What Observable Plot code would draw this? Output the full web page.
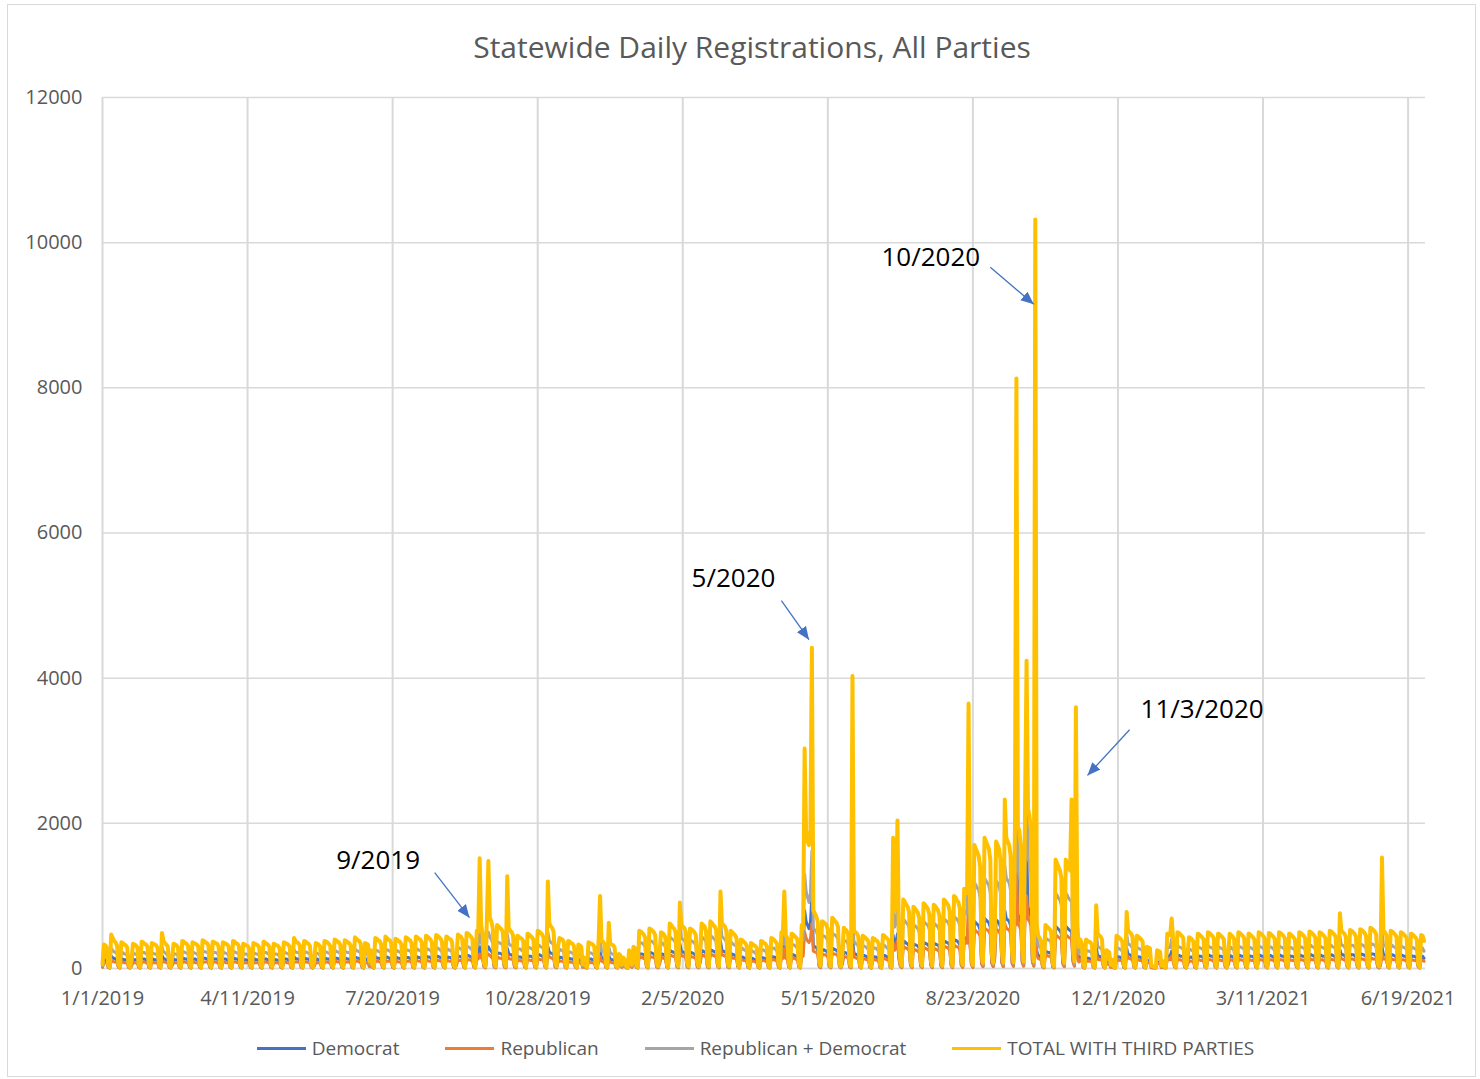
<!DOCTYPE html>
<html>
<head>
<meta charset="utf-8">
<script src="https://cdn.jsdelivr.net/npm/d3@7"></script>
<script src="https://cdn.jsdelivr.net/npm/@observablehq/plot@0.6"></script>
<style>
  body { margin: 0; background: #fff; font-family: "Open Sans", sans-serif; }
  #wrap { position: relative; width: 1480px; height: 1079px; overflow: hidden; }
  #frame { position: absolute; left: 7px; top: 4px; width: 1469px; height: 1073px; border: 1.5px solid #d9d9d9; box-sizing: border-box; }
  #title { position: absolute; top: 26px; left: 0; width: 1504px; text-align: center; font-size: 30px; color: #595959; line-height: 42px; }
  #chart { position: absolute; left: 0; top: 80px; }
  #legend { position: absolute; top: 1034px; left: 0; width: 1511px; display: flex; justify-content: center; gap: 46px; font-size: 19px; color: #595959; line-height: 28px; }
  .item { display: flex; align-items: center; gap: 6px; }
  .sw { width: 49px; height: 3px; }
</style>
</head>
<body>
<div id="wrap">
  <div id="frame"></div>
  <div id="title">Statewide Daily Registrations, All Parties</div>
  <div id="chart"></div>
  <div id="legend"></div>
</div>
<script>
// ---- Data: daily values from 1/1/2019 to 6/30/2021 (one line per Mon–Sun week) ----
const firstDate = "2019-01-01";

const total = [
  60,330,320,280,50,20,
  470,420,380,360,320,60,20,
  360,350,330,320,290,50,20,
  120,340,330,320,290,50,20,
  370,360,340,330,300,60,20,
  350,340,330,320,280,50,20,
  490,380,350,330,300,50,20,
  150,340,330,320,290,50,20,
  380,370,350,340,310,60,20,
  360,350,340,330,300,50,20,
  390,380,360,350,320,60,20,
  370,360,350,340,300,50,20,
  360,350,340,330,300,50,20,
  380,370,350,340,310,60,20,
  340,330,320,310,280,50,20,
  350,340,330,320,290,50,20,
  370,360,340,330,300,60,20,
  340,330,320,310,280,50,20,
  360,350,340,330,300,50,20,
  420,380,360,350,320,60,20,
  380,370,350,340,310,60,20,
  120,350,340,330,300,50,20,
  380,370,360,340,310,60,20,
  400,390,370,360,320,60,20,
  390,380,360,350,320,60,20,
  430,410,390,380,340,60,20,
  350,340,330,100,250,50,20,
  420,410,390,380,340,60,20,
  440,420,400,390,350,60,20,
  410,400,380,370,330,60,20,
  430,420,400,390,350,60,20,
  440,430,410,400,360,60,20,
  450,440,420,400,360,60,20,
  460,450,430,410,370,70,20,
  440,430,410,400,360,60,20,
  150,470,450,440,400,70,20,
  490,480,460,440,400,70,20,
  520,500,1520,600,480,80,30,
  700,1480,700,650,560,90,30,
  600,580,560,540,500,80,30,
  1270,560,520,500,460,80,30,
  450,440,420,410,380,70,20,
  480,470,450,430,400,70,20,
  520,510,490,470,430,70,20,
  1200,620,580,560,500,80,30,
  300,420,410,400,360,60,20,
  380,370,350,340,310,60,20,
  330,320,300,60,150,40,20,
  360,350,340,330,300,50,20,
  400,1000,380,370,340,60,20,
  630,340,330,320,290,50,20,
  200,180,50,150,120,30,10,
  250,200,50,300,280,50,20,
  520,510,490,470,430,70,20,
  550,540,520,500,460,80,30,
  200,500,490,470,430,70,20,
  620,600,570,550,500,80,30,
  910,600,580,560,510,80,30,
  550,540,520,500,460,80,30,
  250,620,600,580,520,80,30,
  650,630,600,580,530,90,30,
  1060,620,600,580,520,80,30,
  520,500,480,460,420,70,20,
  400,390,370,350,320,60,20,
  350,340,320,310,280,50,20,
  380,370,350,340,300,50,20,
  420,410,390,370,340,60,20,
  500,480,1060,460,420,70,20,
  480,470,450,430,400,70,20,
  600,550,3030,1900,1760,1700,1900,
  4420,800,760,720,650,100,40,
  650,640,620,600,540,90,30,
  700,680,650,630,570,90,30,
  200,560,540,520,470,80,30,
  4030,520,500,480,440,70,20,
  450,440,420,400,370,60,20,
  420,410,390,380,340,60,20,
  460,450,430,410,380,60,20,
  1800,800,900,2040,400,100,40,
  950,920,880,850,780,120,40,
  850,830,800,770,700,110,40,
  900,880,850,820,740,120,40,
  880,860,830,800,720,110,40,
  950,930,900,870,790,120,40,
  1000,980,940,910,830,130,50,
  1100,1080,1040,3650,950,150,50,
  1700,1650,1600,1550,1400,200,80,
  1800,1750,1700,1650,1500,220,80,
  400,1750,1700,1650,1500,220,80,
  2330,1800,1750,1700,1550,230,90,
  2000,8130,1950,1900,1700,250,100,
  2300,4240,2200,2100,1900,300,100,
  10320,600,450,420,380,80,30,
  600,580,560,540,500,80,30,
  1500,1450,1400,1350,1250,200,80,
  1500,1450,1400,1350,2330,300,100,
  3600,600,300,400,350,60,20,
  400,380,370,360,330,60,20,
  870,480,460,440,400,70,20,
  250,240,220,50,120,30,10,
  450,440,420,400,370,60,20,
  780,520,500,480,440,70,20,
  450,440,420,400,370,60,20,
  300,290,280,40,30,20,10,
  250,240,230,40,100,30,10,
  480,470,460,690,420,70,20,
  500,490,470,450,420,70,20,
  200,430,420,400,370,60,20,
  480,470,450,430,400,70,20,
  500,490,470,450,420,70,20,
  480,470,450,430,400,70,20,
  200,480,460,440,410,70,20,
  500,490,470,450,420,70,20,
  480,470,450,430,400,70,20,
  500,490,470,450,420,70,20,
  490,480,460,440,410,70,20,
  500,490,470,450,420,70,20,
  480,470,450,430,400,70,20,
  500,490,470,450,420,70,20,
  510,500,480,460,430,70,20,
  500,490,470,450,420,70,20,
  520,510,490,470,440,70,20,
  760,520,500,480,440,70,20,
  530,520,500,480,440,70,20,
  540,530,510,490,450,70,20,
  560,550,530,510,470,80,30,
  150,1530,520,500,460,70,20,
  520,510,490,470,440,70,20,
  500,490,470,450,420,70,20,
  480,470,450,430,400,70,20,
  460,450,380
];

const democrat = [
  20,120,120,100,20,10,
  170,150,140,130,120,20,10,
  130,130,120,120,110,20,10,
  40,130,120,120,110,20,10,
  140,130,130,120,110,20,10,
  130,130,120,120,100,20,10,
  180,140,130,120,110,20,10,
  50,130,120,120,110,20,10,
  140,140,130,130,120,20,10,
  130,130,130,120,110,20,10,
  150,140,140,130,120,20,10,
  140,130,130,130,110,20,10,
  130,130,130,120,110,20,10,
  140,140,130,130,120,20,10,
  130,120,120,110,100,20,10,
  130,130,120,120,110,20,10,
  140,130,130,120,110,20,10,
  130,120,120,110,100,20,10,
  130,130,130,120,110,20,10,
  160,140,130,130,120,20,10,
  140,140,130,130,120,20,10,
  40,130,130,120,110,20,10,
  140,140,130,130,120,20,10,
  150,140,140,130,120,20,10,
  140,140,130,130,120,20,10,
  160,150,140,140,130,20,10,
  130,130,120,40,90,20,10,
  160,150,140,140,130,20,10,
  160,160,150,140,130,20,10,
  150,150,140,140,120,20,10,
  160,150,150,140,130,20,10,
  160,160,150,150,130,20,10,
  170,160,160,150,130,20,10,
  170,170,160,150,140,30,10,
  160,160,150,150,130,20,10,
  60,170,170,160,150,30,10,
  180,180,170,160,150,30,10,
  190,190,300,220,180,30,10,
  260,300,260,240,210,30,10,
  220,210,210,200,190,30,10,
  280,210,190,190,170,30,10,
  170,160,160,150,140,30,10,
  180,170,170,160,150,30,10,
  190,190,180,170,160,30,10,
  300,230,210,210,190,30,10,
  110,160,150,150,130,20,10,
  140,140,130,130,120,20,10,
  120,120,110,20,60,15,10,
  130,130,130,120,110,20,10,
  150,250,140,140,130,20,10,
  180,130,120,120,110,20,10,
  70,70,20,60,40,10,5,
  90,70,20,110,100,20,10,
  210,200,200,190,170,30,10,
  220,220,210,200,180,30,10,
  80,200,200,190,170,30,10,
  250,240,230,220,200,30,10,
  340,240,230,220,200,30,10,
  220,220,210,200,180,30,10,
  100,250,240,230,210,30,10,
  260,250,240,230,210,40,10,
  380,250,240,230,210,30,10,
  210,200,190,180,170,30,10,
  160,160,150,140,130,20,10,
  140,140,130,120,110,20,10,
  150,150,140,140,120,20,10,
  170,160,160,150,140,20,10,
  200,190,380,180,170,30,10,
  190,190,180,170,160,30,10,
  240,220,800,650,600,550,620,
  1000,320,300,290,260,40,15,
  260,260,250,240,220,40,10,
  280,270,260,250,230,40,10,
  80,220,220,210,190,30,10,
  420,210,200,190,180,30,10,
  180,180,170,160,150,20,10,
  170,160,160,150,140,20,10,
  180,180,170,160,150,20,10,
  460,320,360,480,160,40,15,
  380,370,350,340,310,50,15,
  340,330,320,310,280,40,15,
  360,350,340,330,300,50,15,
  350,340,330,320,290,40,15,
  380,370,360,350,320,50,15,
  400,390,380,360,330,50,20,
  430,420,400,470,370,60,20,
  650,630,610,590,530,80,30,
  690,670,650,630,570,80,30,
  150,670,650,630,570,80,30,
  800,690,670,650,590,90,35,
  760,2000,740,720,650,100,40,
  880,1720,840,800,720,110,40,
  1600,240,180,170,150,30,10,
  240,230,220,220,200,30,10,
  580,560,540,520,480,80,30,
  580,560,540,520,520,110,40,
  560,230,120,160,140,20,10,
  150,140,140,130,120,20,10,
  300,180,170,160,150,30,10,
  90,90,80,20,40,10,5,
  170,160,160,150,140,20,10,
  280,190,190,180,160,30,10,
  170,160,160,150,140,20,10,
  110,110,100,15,10,10,5,
  90,90,90,15,40,10,5,
  180,170,170,240,160,30,10,
  190,180,170,170,160,30,10,
  70,160,160,150,140,20,10,
  180,170,170,160,150,30,10,
  190,180,170,170,160,30,10,
  180,170,170,160,150,30,10,
  70,180,170,160,150,30,10,
  190,180,170,170,160,30,10,
  180,170,170,160,150,30,10,
  190,180,170,170,160,30,10,
  180,180,170,160,150,30,10,
  190,180,170,170,160,30,10,
  180,170,170,160,150,30,10,
  190,180,170,170,160,30,10,
  190,190,180,170,160,30,10,
  190,180,170,170,160,30,10,
  190,190,180,170,160,30,10,
  260,190,190,180,160,30,10,
  200,190,190,180,160,30,10,
  200,200,190,180,170,30,10,
  210,200,200,190,170,30,10,
  60,300,190,190,170,30,10,
  190,190,180,170,160,30,10,
  190,180,170,170,160,30,10,
  180,170,170,160,150,30,10,
  170,170,140
];

const republican = [
  15,80,80,70,15,5,
  110,100,90,90,80,15,5,
  90,90,80,80,70,15,5,
  30,90,80,80,70,15,5,
  90,90,90,80,80,15,5,
  90,80,80,80,70,15,5,
  120,90,90,80,70,15,5,
  40,80,80,80,70,15,5,
  90,90,90,80,80,15,5,
  90,90,80,80,70,15,5,
  100,90,90,90,80,15,5,
  90,90,90,80,70,15,5,
  90,90,80,80,70,15,5,
  90,90,90,80,80,15,5,
  80,80,80,80,70,15,5,
  90,80,80,80,70,15,5,
  90,90,90,80,80,15,5,
  80,80,80,80,70,15,5,
  90,90,80,80,70,15,5,
  100,90,90,90,80,15,5,
  90,90,90,80,80,15,5,
  30,90,80,80,70,15,5,
  90,90,90,80,80,15,5,
  100,100,90,90,80,15,5,
  100,90,90,90,80,15,5,
  110,100,100,90,80,15,5,
  90,80,80,25,60,15,5,
  100,100,100,90,80,15,5,
  110,100,100,100,90,15,5,
  100,100,90,90,80,15,5,
  110,100,100,100,90,15,5,
  110,110,100,100,90,15,5,
  110,110,100,100,90,15,5,
  120,110,110,100,90,20,5,
  110,110,100,100,90,15,5,
  40,120,110,110,100,20,5,
  120,120,120,110,100,20,5,
  130,130,200,150,120,20,10,
  180,200,180,160,140,20,10,
  150,150,140,140,130,20,10,
  200,140,130,130,120,20,10,
  110,110,110,100,100,20,5,
  120,120,110,110,100,20,5,
  130,130,120,120,110,20,5,
  200,160,150,140,130,20,10,
  80,110,100,100,90,15,5,
  90,90,90,80,80,15,5,
  80,80,80,15,40,10,5,
  90,90,80,80,70,15,5,
  100,170,100,90,90,15,5,
  120,90,80,80,70,15,5,
  50,50,15,40,30,10,5,
  60,50,15,80,70,15,5,
  160,150,150,140,130,20,5,
  170,160,160,150,140,20,10,
  60,150,150,140,130,20,5,
  190,180,170,170,150,20,10,
  250,180,170,170,150,20,10,
  170,160,160,150,140,20,10,
  80,190,180,170,160,20,10,
  200,190,180,170,160,30,10,
  280,190,180,170,160,20,10,
  160,150,140,140,130,20,5,
  120,120,110,110,100,15,5,
  110,100,100,90,80,15,5,
  110,110,110,100,90,15,5,
  130,120,120,110,100,15,5,
  150,140,280,140,130,20,5,
  140,140,140,130,120,20,5,
  180,170,500,420,380,360,400,
  620,240,230,220,200,30,10,
  200,190,190,180,160,30,10,
  210,200,200,190,170,30,10,
  60,170,160,160,140,20,10,
  300,160,150,140,130,20,5,
  140,130,130,120,110,15,5,
  130,120,120,110,100,15,5,
  140,140,130,120,110,15,5,
  360,250,280,380,120,30,10,
  300,290,280,270,250,40,10,
  270,260,250,240,220,30,10,
  290,280,270,260,240,40,10,
  280,270,260,250,230,30,10,
  300,300,290,280,250,40,10,
  320,310,300,290,260,40,15,
  370,360,350,980,320,50,15,
  540,520,500,490,440,60,25,
  560,540,530,510,470,70,25,
  120,540,530,510,470,70,25,
  620,560,540,530,480,70,30,
  620,1500,600,590,530,80,30,
  700,1000,680,650,590,90,30,
  1000,180,140,130,120,25,10,
  180,180,170,170,150,25,10,
  460,450,430,420,390,60,25,
  460,450,430,420,400,90,30,
  400,180,90,120,110,15,5,
  110,100,100,100,90,15,5,
  220,130,120,120,110,20,5,
  70,60,60,15,30,10,5,
  120,120,110,110,100,15,5,
  200,140,140,130,120,20,5,
  120,120,110,110,100,15,5,
  80,80,80,10,10,5,5,
  70,70,60,10,30,10,5,
  120,120,120,170,100,20,5,
  130,120,120,110,100,20,5,
  50,110,100,100,90,15,5,
  120,120,110,110,100,20,5,
  130,120,120,110,100,20,5,
  120,120,110,110,100,20,5,
  50,120,120,110,100,20,5,
  130,120,120,110,100,20,5,
  120,120,110,110,100,20,5,
  130,120,120,110,100,20,5,
  120,120,120,110,100,20,5,
  130,120,120,110,100,20,5,
  120,120,110,110,100,20,5,
  130,120,120,110,100,20,5,
  130,130,120,120,110,20,5,
  130,120,120,110,100,20,5,
  130,130,120,120,110,20,5,
  180,130,130,120,110,20,5,
  130,130,130,120,110,20,5,
  140,130,130,120,110,20,5,
  140,140,130,130,120,20,5,
  40,200,130,130,120,20,5,
  130,130,120,120,110,20,5,
  130,120,120,110,100,20,5,
  120,120,110,110,100,20,5,
  120,110,100
];

const seriesNames = ["Democrat", "Republican", "Republican + Democrat", "TOTAL WITH THIRD PARTIES"];
const seriesColors = ["#4472C4", "#ED7D31", "#A5A5A5", "#FFC000"];
const seriesWidths = [3, 3, 3, 4];

const yTicks = [0, 2000, 4000, 6000, 8000, 10000, 12000];
const xTickLabels = ["1/1/2019", "4/11/2019", "7/20/2019", "10/28/2019", "2/5/2020", "5/15/2020", "8/23/2020", "12/1/2020", "3/11/2021", "6/19/2021"];

const noteLabels = ["9/2019", "5/2020", "10/2020", "11/3/2020"];
const noteDates = ["2019-07-10", "2020-03-11", "2020-07-25", "2021-01-28"];
const noteValues = [1490, 5370, 9790, 3570];
const arrowFromDates = ["2019-08-18", "2020-04-13", "2020-09-04", "2020-12-09"];
const arrowFromValues = [1320, 5070, 9660, 3290];
const arrowToDates = ["2019-09-11", "2020-05-02", "2020-10-04", "2020-11-10"];
const arrowToValues = [700, 4530, 9150, 2660];

// ---- Build tables ----
const parseISO = d3.utcParse("%Y-%m-%d");
const parseMDY = d3.utcParse("%m/%d/%Y");
const start = parseISO(firstDate);
const n = Math.min(total.length, democrat.length, republican.length);
const rows = [];
for (let i = 0; i < n; i++) {
  const date = d3.utcDay.offset(start, i);
  rows.push({date, series: seriesNames[0], value: democrat[i]});
  rows.push({date, series: seriesNames[1], value: republican[i]});
  rows.push({date, series: seriesNames[2], value: democrat[i] + republican[i]});
  rows.push({date, series: seriesNames[3], value: total[i]});
}
const xTicks = xTickLabels.map(parseMDY);
const notes = noteLabels.map((label, i) => ({label, date: parseISO(noteDates[i]), value: noteValues[i]}));
const arrows = noteLabels.map((label, i) => ({
  x1: parseISO(arrowFromDates[i]), y1: arrowFromValues[i],
  x2: parseISO(arrowToDates[i]), y2: arrowToValues[i]
}));
const fmt = d3.utcFormat("%-m/%-d/%Y");

function arrowHead(color, context) {
  const ns = "http://www.w3.org/2000/svg";
  const doc = (context && context.document) || document;
  const m = doc.createElementNS(ns, "marker");
  m.setAttribute("viewBox", "-13 -6 14 12");
  m.setAttribute("markerWidth", "14");
  m.setAttribute("markerHeight", "12");
  m.setAttribute("markerUnits", "userSpaceOnUse");
  m.setAttribute("refX", "0");
  m.setAttribute("refY", "0");
  m.setAttribute("orient", "auto");
  const p = doc.createElementNS(ns, "path");
  p.setAttribute("d", "M-13,-5.5L0,0L-13,5.5Z");
  p.setAttribute("fill", color);
  p.setAttribute("stroke", "none");
  m.appendChild(p);
  return m;
}

function build(marker) {
  return Plot.plot({
    width: 1480,
    height: 940,
    marginTop: 17,
    marginBottom: 52,
    marginLeft: 102,
    marginRight: 55,
    style: {fontFamily: "'Open Sans', sans-serif", fontSize: "20px", color: "#595959", background: "transparent", overflow: "visible"},
    x: {type: "utc", domain: [start, d3.utcDay.offset(start, 912)]},
    y: {domain: [0, 12000]},
    marks: [
      Plot.gridY(yTicks, {stroke: "#d9d9d9", strokeOpacity: 1, strokeWidth: 1.5}),
      Plot.gridX(xTicks, {stroke: "#d9d9d9", strokeOpacity: 1, strokeWidth: 2}),
      Plot.ruleY([0], {stroke: "#d9d9d9", strokeWidth: 1.5}),
      Plot.axisY(yTicks, {tickSize: 0, tickPadding: 20, label: null, tickFormat: d => String(d), fill: "#595959", fontSize: 20}),
      Plot.axisX(xTicks, {tickSize: 0, tickPadding: 22, label: null, tickFormat: fmt, fill: "#595959", fontSize: 20}),
      ...seriesNames.map((name, i) => Plot.line(rows.filter(r => r.series === name), {
        x: "date", y: "value", stroke: seriesColors[i], strokeWidth: seriesWidths[i],
        strokeLinejoin: "round", strokeLinecap: "round"
      })),
      Plot.link(arrows, {x1: "x1", y1: "y1", x2: "x2", y2: "y2", stroke: "#4472C4", strokeWidth: 1.3, markerEnd: marker}),
      Plot.text(notes, {x: "date", y: "value", text: "label", fontSize: 26, fill: "#000"})
    ]
  });
}

let chart;
try { chart = build(arrowHead); } catch (e) { chart = build("arrow"); }
document.getElementById("chart").appendChild(chart);

const legend = document.getElementById("legend");
seriesNames.forEach((name, i) => {
  const item = document.createElement("div");
  item.className = "item";
  const sw = document.createElement("div");
  sw.className = "sw";
  sw.style.background = seriesColors[i];
  const label = document.createElement("span");
  label.textContent = name;
  item.appendChild(sw);
  item.appendChild(label);
  legend.appendChild(item);
});
</script>
</body>
</html>
